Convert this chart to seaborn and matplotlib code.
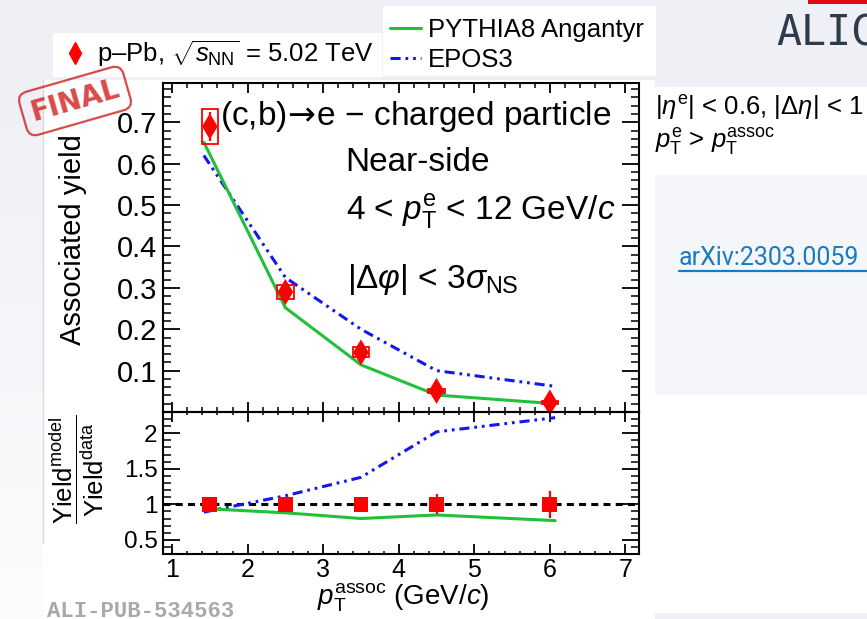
import numpy as np
import pandas as pd
import matplotlib
matplotlib.use("Agg")
import matplotlib.pyplot as plt
from matplotlib.patches import Rectangle
from matplotlib.lines import Line2D
from matplotlib.ticker import MultipleLocator
from matplotlib.colors import LinearSegmentedColormap
import seaborn as sns

# ---------------- data ----------------
pt_assoc = [1.5, 2.5, 3.5, 4.5, 6.0]
yield_data = [0.69, 0.29, 0.144, 0.051, 0.023]
yield_stat = [0.035, 0.012, 0.008, 0.006, 0.006]
yield_sys = [0.043, 0.016, 0.012, 0.005, 0.004]

pt_model = [1.42, 2.5, 3.5, 4.5, 6.07]
yield_pythia = [0.652, 0.252, 0.114, 0.041, 0.020]
yield_epos = [0.62, 0.325, 0.20, 0.10, 0.062]

ratio_data = [1.0, 1.0, 1.0, 1.0, 1.0]
ratio_stat = [0.05, 0.04, 0.06, 0.14, 0.19]
ratio_pythia = [0.94, 0.88, 0.80, 0.85, 0.77]
ratio_epos = [0.89, 1.12, 1.38, 2.02, 2.22]

x_ticks = [1, 2, 3, 4, 5, 6, 7]
yield_ticks = [0.1, 0.2, 0.3, 0.4, 0.5, 0.6, 0.7]
ratio_ticks = [0.5, 1.0, 1.5, 2.0]
ratio_tick_labels = ["0.5", "1", "1.5", "2"]

GREEN = "#22c03a"
BLUE = "#1515ee"
RED = "#ff0000"
DASHDOTDOT = (0, (3.3, 1.6, 0.9, 1.6, 0.9, 1.6))

# ---------------- style ----------------
sns.set_theme(style="ticks")
plt.rcParams["font.family"] = ["Liberation Sans", "DejaVu Sans"]
plt.rcParams["mathtext.fontset"] = "custom"
plt.rcParams["mathtext.rm"] = "Liberation Sans"
plt.rcParams["mathtext.it"] = "Liberation Sans:italic"
plt.rcParams["mathtext.bf"] = "Liberation Sans:bold"
plt.rcParams["mathtext.sf"] = "Liberation Sans"
plt.rcParams["text.color"] = "black"
plt.rcParams["axes.edgecolor"] = "black"
plt.rcParams["xtick.color"] = "black"
plt.rcParams["ytick.color"] = "black"

W, H = 867, 619
fig = plt.figure(figsize=(W / 100, H / 100), dpi=100)
fig.patch.set_facecolor("#eef0f5")


def fr(x0, y0, x1, y1):
    return [x0 / W, 1 - y1 / H, (x1 - x0) / W, (y1 - y0) / H]


def bg(x0, y0, x1, y1, color, z=-5):
    l, b, w, h = fr(x0, y0, x1, y1)
    fig.patches.append(Rectangle((l, b), w, h, transform=fig.transFigure,
                                 facecolor=color, edgecolor="none", zorder=z))


# page background pieces (decoration of the screenshot)
grad_ax = fig.add_axes(fr(0, 80, 43, 619), zorder=-20)
grad_ax.imshow(np.linspace(0, 1, 100).reshape(-1, 1), aspect="auto",
               cmap=LinearSegmentedColormap.from_list("g", ["#eef0f5", "#fcfcfd"]),
               extent=(0, 1, 1, 0))
grad_ax.set_axis_off()

bg(640, 175, 867, 395, "#f5f6f9")
bg(43, 80, 655, 619, "white")
bg(600, 395, 867, 613, "white")
bg(655, 87, 867, 175, "white")
bg(53, 33, 382, 77, "white")
bg(383, 6, 656, 76, "white")
bg(808, 0, 867, 4, "#e30613")
fig.lines.append(Line2D([43 / W, 43 / W], [1 - 80 / H, 1 - 543 / H],
                        transform=fig.transFigure, color="#d9d9dc", lw=1))

ax1 = fig.add_axes(fr(163, 83, 639, 412))
ax2 = fig.add_axes(fr(163, 412, 639, 554), sharex=ax1)
for ax in (ax1, ax2):
    ax.set_facecolor("none")
    for s in ax.spines.values():
        s.set_linewidth(1.5)
        s.set_color("black")

df_data = pd.DataFrame({"pt": pt_assoc, "yield": yield_data, "stat": yield_stat,
                        "sys": yield_sys, "ratio": ratio_data, "rstat": ratio_stat})
df_model = pd.DataFrame({"pt": pt_model, "pythia": yield_pythia, "epos": yield_epos,
                         "r_pythia": ratio_pythia, "r_epos": ratio_epos})

# ---------------- upper panel ----------------
sns.lineplot(data=df_model, x="pt", y="epos", ax=ax1, color=BLUE, lw=2.2,
             linestyle=DASHDOTDOT, sort=False, legend=False, zorder=3)
sns.lineplot(data=df_model, x="pt", y="pythia", ax=ax1, color=GREEN, lw=2.2,
             sort=False, legend=False, zorder=3)
ax1.bar(df_data["pt"], 2 * df_data["sys"], bottom=df_data["yield"] - df_data["sys"],
        width=0.22, fill=False, edgecolor=RED, linewidth=1.3, zorder=4)
ax1.errorbar(df_data["pt"], df_data["yield"], yerr=df_data["stat"], fmt="none",
             ecolor=RED, elinewidth=1.6, capsize=0, zorder=4)
sns.scatterplot(data=df_data, x="pt", y="yield", ax=ax1, marker="d", s=175,
                color=RED, edgecolor="none", legend=False, zorder=5)

ax1.set_xlim(0.88, 7.18)
ax1.set_ylim(0.0, 0.795)
ax1.set_yticks(yield_ticks)
ax1.set_yticklabels([f"{t:.1f}" for t in yield_ticks])
ax1.yaxis.set_minor_locator(MultipleLocator(0.02))
ax1.xaxis.set_minor_locator(MultipleLocator(0.2))
ax1.tick_params(axis="y", which="major", direction="in", length=12, width=1.3,
                labelsize=21, pad=4, left=True, right=True)
ax1.tick_params(axis="y", which="minor", direction="in", length=6, width=1.1,
                left=True, right=True)
ax1.tick_params(axis="x", which="major", direction="in", length=7, width=1.3,
                top=True, bottom=True, labelbottom=False)
ax1.tick_params(axis="x", which="minor", direction="in", length=3.5, width=1.1,
                top=True, bottom=True)
ax1.set_xlabel("")
ax1.set_ylabel("")

# ---------------- lower panel ----------------
ax2.axhline(1.0, color="black", lw=2.2, linestyle=(0, (2.3, 1.7)), zorder=2)
sns.lineplot(data=df_model, x="pt", y="r_epos", ax=ax2, color=BLUE, lw=2.2,
             linestyle=DASHDOTDOT, sort=False, legend=False, zorder=3)
sns.lineplot(data=df_model, x="pt", y="r_pythia", ax=ax2, color=GREEN, lw=2.2,
             sort=False, legend=False, zorder=3)
ax2.errorbar(df_data["pt"], df_data["ratio"], yerr=df_data["rstat"], fmt="none",
             ecolor=RED, elinewidth=1.6, capsize=0, zorder=4)
sns.scatterplot(data=df_data, x="pt", y="ratio", ax=ax2, marker="s", s=115,
                color=RED, edgecolor="none", legend=False, zorder=5)

ax2.set_ylim(0.3, 2.3)
ax2.set_yticks(ratio_ticks)
ax2.set_yticklabels(ratio_tick_labels)
ax2.set_xticks(x_ticks)
ax2.set_xticklabels([str(t) for t in x_ticks])
ax2.yaxis.set_minor_locator(MultipleLocator(0.1))
ax2.xaxis.set_minor_locator(MultipleLocator(0.2))
ax2.tick_params(axis="y", which="major", direction="in", length=12, width=1.3,
                labelsize=17.5, pad=4, left=True, right=True)
ax2.tick_params(axis="y", which="minor", direction="in", length=6, width=1.1,
                left=True, right=True)
ax2.tick_params(axis="x", which="major", direction="in", length=7, width=1.3,
                labelsize=18, pad=3, top=True, bottom=True)
ax2.tick_params(axis="x", which="minor", direction="in", length=2.5, width=1.1,
                top=True, bottom=True)
ax2.set_xlabel("")
ax2.set_ylabel("")


def ftext(x, y, s, **kw):
    return fig.text(x / W, 1 - y / H, s, **kw)


# ---------------- texts ----------------
ftext(220, 125, r"(c,b)$\!\rightarrow\!$e − charged particle", fontsize=24, va="baseline",
      math_fontfamily="dejavusans")
ftext(345, 171, "Near-side", fontsize=24, va="baseline")
ftext(346, 220, r"4 < $p_{\rm T}^{\rm e}$ < 12 GeV/$c$", fontsize=24, va="baseline")
ftext(347, 288, r"$|\Delta\varphi|$ < 3$\sigma_{\rm NS}$", fontsize=24, va="baseline")

ftext(73, 240, "Associated yield", fontsize=21, rotation=90, ha="center", va="center")
ftext(77, 469, r"$\dfrac{\mathrm{Yield}^{\mathrm{model}}}{\mathrm{Yield}^{\mathrm{data}}}$",
      fontsize=18.5, rotation=90, ha="center", va="center")
ftext(403, 604, r"$p_{\rm T}^{\rm assoc}$ (GeV/$c$)", fontsize=20, ha="center", va="baseline")

ftext(655, 115, r"$|\eta^{\rm e}|$ < 0.6, $|\Delta\eta|$ < 1", fontsize=18.5, va="baseline")
ftext(655, 148, r"$p_{\rm T}^{\rm e}$ > $p_{\rm T}^{\rm assoc}$", fontsize=18.5, va="baseline")

ftext(679, 265, "arXiv:2303.0059", fontsize=18, family="Roboto", color="#1a7bbf", va="baseline")
fig.lines.append(Line2D([679 / W, 1.0], [1 - 271 / H, 1 - 271 / H],
                        transform=fig.transFigure, color="#1a7bbf", lw=1.6))

ftext(776, 45, "ALIC", fontsize=30, family="DejaVu Sans Mono", color="#2e3b4b", va="baseline")

ftext(75, 101, "FINAL", fontsize=20, family="DejaVu Sans", fontweight="bold",
      color="#d42b2b", rotation=16, ha="center", va="center", alpha=0.85,
      bbox=dict(boxstyle="round,pad=0.3,rounding_size=0.35", fc="none",
                ec="#d42b2b", lw=1.6, alpha=0.85))

ftext(47, 617, "ALI-PUB-534563", fontsize=16, family="Liberation Mono", fontweight="bold",
      color="#a9a9a9", va="baseline")

# ---------------- legends ----------------
fig.legend(handles=[Line2D([], [], ls="none", marker="d", color=RED, ms=11)],
           labels=[r"p–Pb, $\sqrt{s_{\rm NN}}$ = 5.02 TeV"],
           loc="center left", bbox_to_anchor=(62 / W, 1 - 54 / H), frameon=False,
           fontsize=18.5, handlelength=1.0, handletextpad=0.35, borderpad=0,
           borderaxespad=0)
fig.legend(handles=[Line2D([], [], color=GREEN, lw=2.2),
                    Line2D([], [], color=BLUE, lw=2.2, linestyle=DASHDOTDOT)],
           labels=["PYTHIA8 Angantyr", "EPOS3"],
           loc="center left", bbox_to_anchor=(390 / W, 1 - 45 / H), frameon=False,
           fontsize=18.5, handlelength=1.2, handletextpad=0.28, labelspacing=0.2,
           borderpad=0, borderaxespad=0)

fig.savefig("out.png", dpi=100, facecolor=fig.get_facecolor())
